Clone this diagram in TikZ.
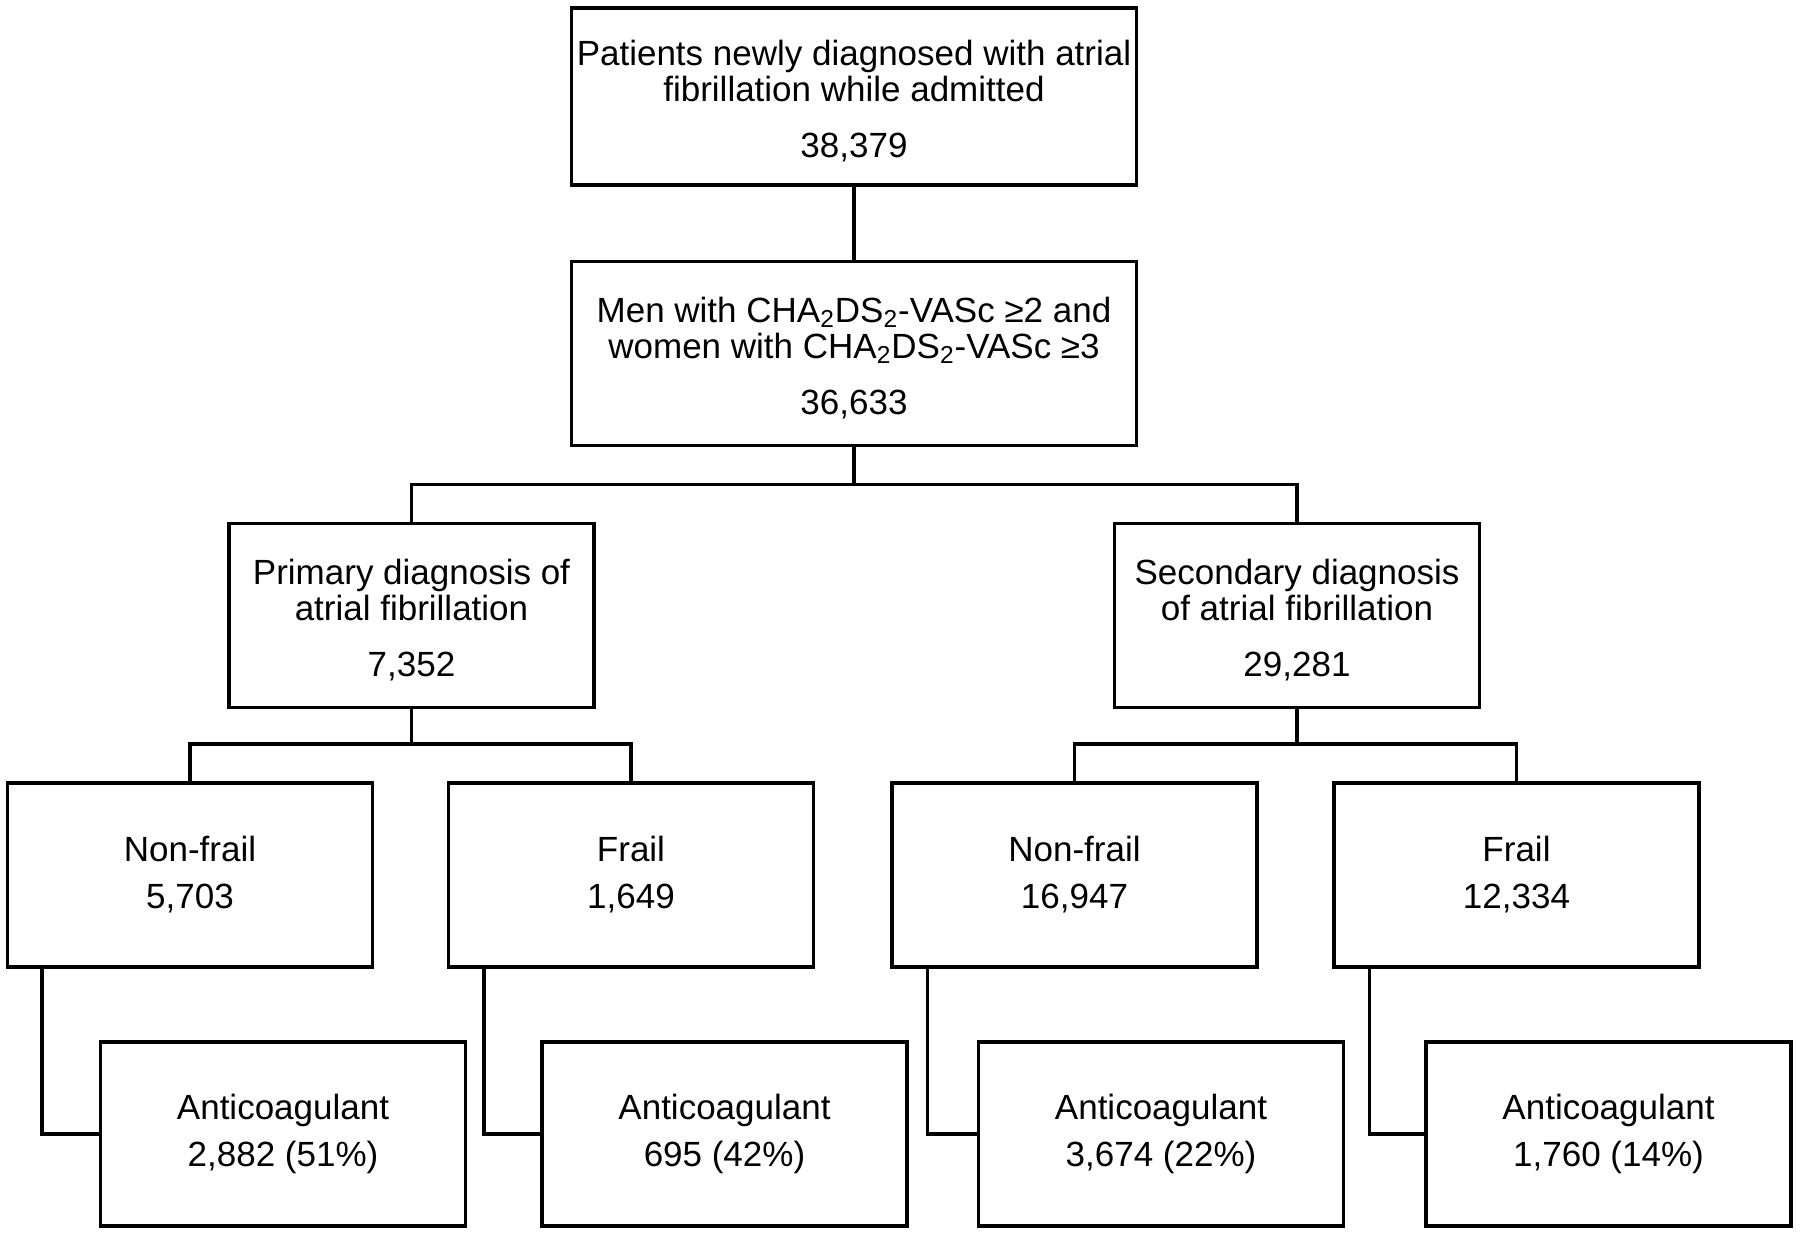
\documentclass[tikz,border=0pt]{standalone}
\usepackage{fontspec}
\setmainfont{Liberation Sans}
\newcommand{\topstrut}{\rule{0pt}{17.4pt}}
\tikzset{
    box/.style={draw, line width=1.7pt, inner sep=0pt, align=center,
        minimum width=182.5pt, minimum height=92pt,
        font=\fontsize{17.5}{18}\selectfont},
    widebox/.style={box, minimum width=282.5pt},
    link/.style={line width=1.7pt}
}

\begin{document}
\begin{tikzpicture}[x=0.5pt,y=-0.5pt]
    \useasboundingbox (0,0) rectangle (1800,1234);
    \node[widebox, minimum height=88.5pt] (admit) at (854,96.5) {\topstrut Patients newly diagnosed with atrial\\fibrillation while admitted\\[10pt]38,379};
    \node[widebox] (score) at (854,353.5) {\topstrut Men with CHA\textsubscript{2}DS\textsubscript{2}-VASc ≥2 and\\women with CHA\textsubscript{2}DS\textsubscript{2}-VASc ≥3\\[10pt]36,633};
    \node[box] (prim) at (411.5,615.3) {\topstrut Primary diagnosis of\\atrial fibrillation\\[10pt]7,352};
    \node[box] (sec) at (1297,615.3) {\topstrut Secondary diagnosis\\of atrial fibrillation\\[10pt]29,281};
    \node[box] (primnf) at (190,875) {Non-frail\\[5.5pt]5,703};
    \node[box] (primf) at (631,875) {Frail\\[5.5pt]1,649};
    \node[box] (secnf) at (1074.5,875) {Non-frail\\[5.5pt]16,947};
    \node[box] (secf) at (1516.5,875) {Frail\\[5.5pt]12,334};
    \node[box] (primnfac) at (283,1134) {Anticoagulant\\[5.5pt]2,882 (51\%)};
    \node[box] (primfac) at (724.5,1134) {Anticoagulant\\[5.5pt]695 (42\%)};
    \node[box] (secnfac) at (1161,1134) {Anticoagulant\\[5.5pt]3,674 (22\%)};
    \node[box] (secfac) at (1608.5,1134) {Anticoagulant\\[5.5pt]1,760 (14\%)};
    \coordinate (split) at (854,484.5);
    \coordinate (primsplit) at (411.5,744);
    \coordinate (secsplit) at (1297,744);
    \draw[link] (admit) -- (score);
    \draw[link] (score) -- (split);
    \draw[link] (prim.north) |- (split) -| (sec.north);
    \draw[link] (prim) -- (primsplit);
    \draw[link] (primnf.north) |- (primsplit) -| (primf.north);
    \draw[link] (sec) -- (secsplit);
    \draw[link] (secnf.north) |- (secsplit) -| (secf.north);
    \draw[link] ([xshift=18pt]primnf.south west) |- (primnfac.west);
    \draw[link] ([xshift=18.5pt]primf.south west) |- (primfac.west);
    \draw[link] ([xshift=18.5pt]secnf.south west) |- (secnfac.west);
    \draw[link] ([xshift=18.5pt]secf.south west) |- (secfac.west);
\end{tikzpicture}
\end{document}
